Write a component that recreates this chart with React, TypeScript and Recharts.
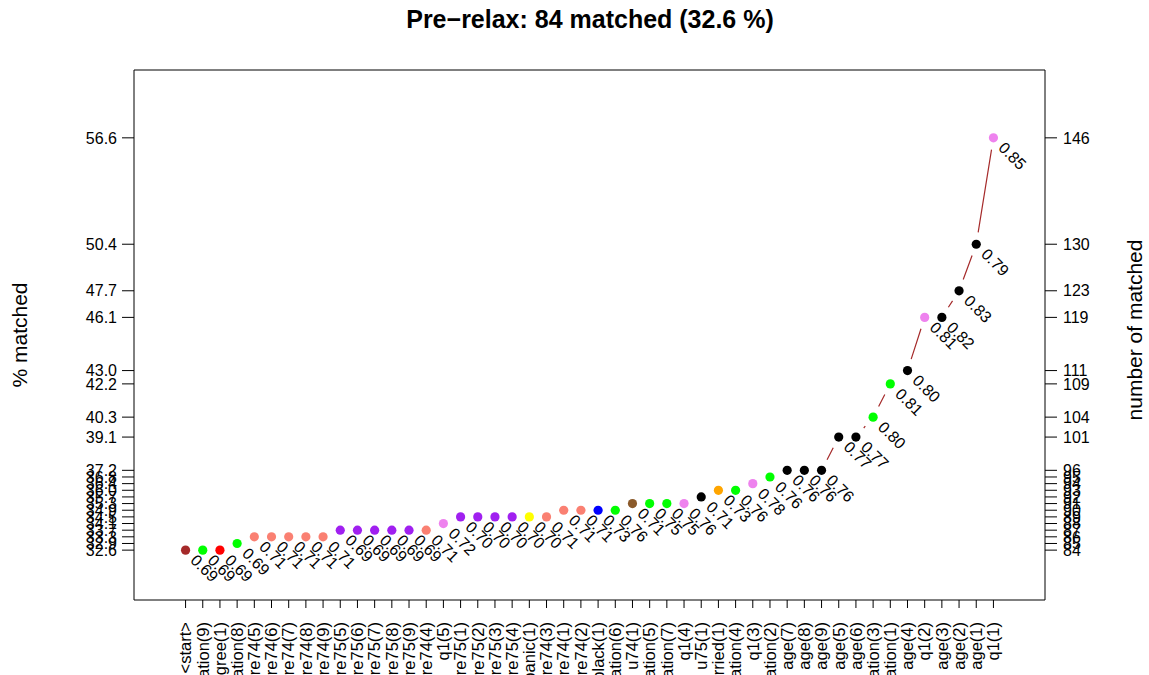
import { Line, LineChart, ReferenceArea, XAxis, YAxis } from "recharts";

// total number of units, used to turn counts into % matched
const TOTAL = 258;

const steps = [
  "<start>", "education(9)", "nodegree(1)", "education(8)",
  "re74(5)", "re74(6)", "re74(7)", "re74(8)", "re74(9)",
  "re75(5)", "re75(6)", "re75(7)", "re75(8)", "re75(9)",
  "re74(4)", "q1(5)", "re75(1)", "re75(2)", "re75(3)", "re75(4)",
  "hispanic(1)", "re74(3)", "re74(1)", "re74(2)", "black(1)",
  "education(6)", "u74(1)", "education(5)", "education(7)", "q1(4)",
  "u75(1)", "married(1)", "education(4)", "q1(3)", "education(2)",
  "age(7)", "age(8)", "age(9)", "age(5)", "age(6)",
  "education(3)", "education(1)", "age(4)", "q1(2)", "age(3)",
  "age(2)", "age(1)", "q1(1)",
];

const matched = [
  84, 84, 84, 85,
  86, 86, 86, 86, 86,
  87, 87, 87, 87, 87,
  87, 88, 89, 89, 89, 89,
  89, 89, 90, 90, 90,
  90, 91, 91, 91, 91,
  92, 93, 93, 94, 95,
  96, 96, 96, 101, 101,
  104, 109, 111, 119, 119,
  123, 130, 146,
];

const balance = [
  "0.69", "0.69", "0.69", "0.69",
  "0.71", "0.71", "0.71", "0.71", "0.71",
  "0.69", "0.69", "0.69", "0.69", "0.69",
  "0.71", "0.72", "0.70", "0.70", "0.70", "0.70",
  "0.70", "0.71", "0.71", "0.71", "0.73",
  "0.76", "0.71", "0.75", "0.75", "0.76",
  "0.71", "0.73", "0.76", "0.78", "0.76",
  "0.76", "0.76", "0.76", "0.77", "0.77",
  "0.80", "0.81", "0.80", "0.81", "0.82",
  "0.83", "0.79", "0.85",
];

const varColors: Record<string, string> = {
  "<start>": "#A52A2A",
  education: "#00FF00",
  nodegree: "#FF0000",
  re74: "#FA8072",
  re75: "#A020F0",
  q1: "#EE82EE",
  hispanic: "#FFFF00",
  black: "#0000FF",
  u74: "#8B5A2B",
  u75: "#000000",
  married: "#FFA500",
  age: "#000000",
};

const data = steps.map((s, i) => ({
  idx: i + 1,
  step: s,
  n: matched[i],
  bal: balance[i],
  color: varColors[s.split("(")[0]],
}));

const yTicks = Array.from(new Set(matched));
const xTicks = data.map((d) => d.idx);

const FONT = "'Liberation Sans', Arial, Helvetica, sans-serif";
const GAP = 12;

// like R's type = "b": segments between points, cut back near each point
const gapCurve = (context: any) => {
  let px: number | null = null;
  let py = 0;
  return {
    areaStart() {},
    areaEnd() {},
    lineStart() {
      px = null;
    },
    lineEnd() {},
    point(x: number, y: number) {
      if (px !== null) {
        const dx = x - px;
        const dy = y - py;
        const d = Math.hypot(dx, dy);
        if (d > 2 * GAP) {
          const ux = dx / d;
          const uy = dy / d;
          context.moveTo(px + ux * GAP, py + uy * GAP);
          context.lineTo(x - ux * GAP, y - uy * GAP);
        }
      }
      px = x;
      py = y;
    },
  };
};

const renderDot = (props: any) => {
  const { cx, cy, index, payload } = props;
  return (
    <g key={`dot-${index}`}>
      <circle cx={cx} cy={cy} r={4.6} fill={payload.color} stroke="none" />
      <text
        transform={`translate(${cx + 4},${cy + 11}) rotate(45)`}
        fontSize={16}
        fontFamily={FONT}
        fill="#000"
      >
        {payload.bal}
      </text>
    </g>
  );
};

const XTick = (props: any) => {
  const { x, y, payload } = props;
  return (
    <text
      transform={`translate(${x},${y}) rotate(-90)`}
      textAnchor="end"
      dy="0.35em"
      fontSize={16.5}
      fontFamily={FONT}
      fill="#000"
    >
      {steps[payload.value - 1]}
    </text>
  );
};

const pct = (v: number) => ((v / TOTAL) * 100).toFixed(1);

export default function App() {
  return (
    <div
      style={{
        position: "absolute",
        left: 0,
        top: 0,
        width: 1149,
        height: 675,
        background: "#fff",
        fontFamily: FONT,
      }}
    >
      <div
        style={{
          position: "absolute",
          left: 0,
          width: 1180,
          top: 5,
          textAlign: "center",
          fontWeight: "bold",
          fontSize: 25,
        }}
      >
        Pre−relax: 84 matched (32.6 %)
      </div>
      <div
        style={{
          position: "absolute",
          left: 20,
          top: 335,
          fontSize: 21,
          whiteSpace: "nowrap",
          transform: "translate(-50%, -50%) rotate(-90deg)",
        }}
      >
        % matched
      </div>
      <div
        style={{
          position: "absolute",
          left: 1135,
          top: 330,
          fontSize: 21,
          whiteSpace: "nowrap",
          transform: "translate(-50%, -50%) rotate(-90deg)",
        }}
      >
        number of matched
      </div>
      <LineChart
        width={1149}
        height={675}
        data={data}
        margin={{ top: 70, right: 0, bottom: 0, left: 0 }}
      >
        <XAxis
          dataKey="idx"
          type="number"
          domain={[-2, 51]}
          allowDataOverflow
          ticks={xTicks}
          interval={0}
          height={75}
          axisLine={false}
          tickLine={{ stroke: "#000" }}
          tickSize={8}
          tickMargin={14}
          tick={<XTick />}
        />
        <YAxis
          yAxisId="left"
          type="number"
          domain={[76.5, 156.2]}
          allowDataOverflow
          ticks={yTicks}
          interval={0}
          width={134}
          axisLine={false}
          tickLine={{ stroke: "#000" }}
          tickSize={12}
          tickMargin={5}
          tickFormatter={pct}
          tick={{ fontSize: 16, fill: "#000", fontFamily: FONT }}
        />
        <YAxis
          yAxisId="right"
          orientation="right"
          type="number"
          domain={[76.5, 156.2]}
          allowDataOverflow
          ticks={yTicks}
          interval={0}
          width={104}
          axisLine={false}
          tickLine={{ stroke: "#000" }}
          tickSize={12}
          tickMargin={6}
          tick={{ fontSize: 16, fill: "#000", fontFamily: FONT }}
        />
        <ReferenceArea
          yAxisId="left"
          x1={-2}
          x2={51}
          y1={76.5}
          y2={156.2}
          fill="none"
          stroke="#000"
          strokeWidth={1}
          ifOverflow="visible"
        />
        <Line
          yAxisId="left"
          dataKey="n"
          type={gapCurve as any}
          stroke="#A52A2A"
          strokeWidth={1.2}
          dot={renderDot}
          activeDot={false}
          isAnimationActive={false}
        />
      </LineChart>
    </div>
  );
}
